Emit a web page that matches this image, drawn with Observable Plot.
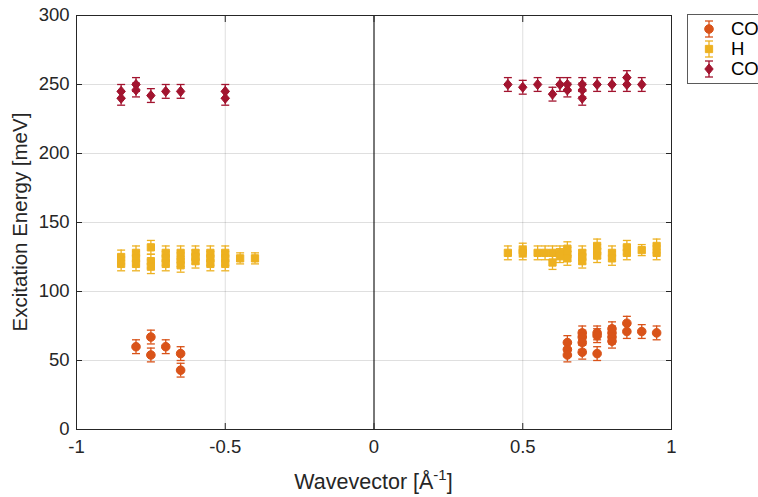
<!DOCTYPE html>
<html>
<head>
<meta charset="utf-8">
<script src="https://cdn.jsdelivr.net/npm/d3@7"></script>
<script src="https://cdn.jsdelivr.net/npm/@observablehq/plot@0.6"></script>
<style>
  html, body { margin: 0; padding: 0; background: #fff; overflow: hidden; }
  #chart { position: relative; width: 758px; height: 497px; font-family: "Liberation Sans", Arial, Helvetica, sans-serif; }
  #legend { position: absolute; left: 687px; top: 14px; width: 110px; height: 70px;
            border: 1px solid #5a5a5a; background: #fff; box-sizing: border-box; }
</style>
</head>
<body>
<div id="chart"></div>
<script>
// Excitation energies (meV) with error bars versus wavevector (1/Å)

// CO mode (orange circles)
const coQ   = [-0.8, -0.75, -0.75, -0.7, -0.65, -0.65,
               0.65, 0.65, 0.65, 0.7, 0.7, 0.7, 0.7, 0.75, 0.75, 0.75,
               0.8, 0.8, 0.8, 0.8, 0.85, 0.85, 0.9, 0.95];
const coE   = [60, 67, 54, 60, 55, 43,
               63, 58, 54, 70, 67, 63, 56, 70, 68, 55,
               73, 70, 67, 64, 77, 71, 71, 70];
const coErr = [5, 5, 5, 5, 5, 5,
               5, 5, 5, 5, 5, 5, 5, 5, 5, 5,
               5, 5, 5, 5, 5, 5, 5, 5];

// H mode (yellow squares)
const hQ   = [-0.85, -0.85, -0.8, -0.8, -0.8, -0.75, -0.75, -0.75, -0.7, -0.7, -0.7,
              -0.65, -0.65, -0.65, -0.6, -0.6, -0.6, -0.55, -0.55, -0.55, -0.5, -0.5, -0.5,
              -0.45, -0.4,
              0.45, 0.5, 0.5, 0.55, 0.575, 0.6, 0.6, 0.625, 0.625, 0.65, 0.65, 0.65,
              0.7, 0.7, 0.7, 0.75, 0.75, 0.75, 0.8, 0.8, 0.85, 0.85, 0.9, 0.95, 0.95];
const hE   = [125, 120, 128, 124, 120, 132, 122, 118, 128, 124, 120,
              128, 123, 119, 128, 125, 122, 128, 124, 120, 128, 124, 120,
              124, 124,
              128, 130, 128, 128, 128, 128, 121, 128, 126, 131, 127, 124,
              128, 125, 122, 133, 129, 126, 128, 124, 132, 128, 130, 133, 128];
const hErr = [5, 5, 5, 5, 5, 5, 5, 5, 5, 5, 5,
              5, 5, 5, 5, 5, 5, 5, 5, 5, 5, 5, 5,
              4, 4,
              5, 5, 5, 5, 5, 5, 5, 5, 5, 5, 5, 5,
              5, 5, 5, 5, 5, 5, 5, 5, 5, 5, 4, 5, 5];

// CO mode, upper branch (dark red diamonds)
const co2Q   = [-0.85, -0.85, -0.8, -0.8, -0.75, -0.7, -0.65, -0.5, -0.5,
                0.45, 0.5, 0.55, 0.6, 0.625, 0.65, 0.65, 0.7, 0.7, 0.7,
                0.75, 0.8, 0.85, 0.85, 0.9];
const co2E   = [245, 240, 250, 246, 242, 245, 245, 245, 240,
                250, 248, 250, 243, 250, 250, 246, 250, 246, 240,
                250, 250, 255, 250, 250];
const co2Err = [5, 5, 5, 5, 5, 5, 5, 5, 5,
                5, 5, 5, 5, 5, 5, 5, 5, 5, 5,
                5, 5, 5, 5, 5];

const seriesNames  = ["CO", "H", "CO"];
const seriesColors = ["#D95319", "#EDB120", "#A2142F"];

const xTicks = [-1, -0.5, 0, 0.5, 1];
const yTicks = [0, 50, 100, 150, 200, 250, 300];

const FONT = '"Liberation Sans", Arial, Helvetica, sans-serif';
const AXIS = "#262626";

// Marker shapes (error-bar caps are short horizontal strokes)
const capSymbol = { draw(ctx, size) { const r = Math.sqrt(size / Math.PI); ctx.moveTo(-r, 0); ctx.lineTo(r, 0); } };
const diamondSymbol = { draw(ctx, size) {
  const r = Math.sqrt(size / Math.PI);
  ctx.moveTo(0, -1.2 * r); ctx.lineTo(r, 0); ctx.lineTo(0, 1.2 * r); ctx.lineTo(-r, 0); ctx.closePath();
} };
const symbols = ["circle", "square", diamondSymbol];
const radii = [4.3, 4.1, 4.2];

const toRows = (q, e, err) => q.map((x, i) => ({q: x, E: e[i], err: err[i]}));
const series = [toRows(coQ, coE, coErr), toRows(hQ, hE, hErr), toRows(co2Q, co2E, co2Err)];

function seriesMarks(data, i) {
  const color = seriesColors[i];
  return [
    Plot.ruleX(data, {x: "q", y1: d => d.E - d.err, y2: d => d.E + d.err, stroke: color, strokeWidth: 1.3}),
    Plot.dot(data, {x: "q", y: d => d.E + d.err, symbol: capSymbol, r: 4, stroke: color, strokeWidth: 1.3}),
    Plot.dot(data, {x: "q", y: d => d.E - d.err, symbol: capSymbol, r: 4, stroke: color, strokeWidth: 1.3}),
    Plot.dot(data, {x: "q", y: "E", symbol: symbols[i], r: radii[i], fill: color, stroke: color, strokeWidth: 1})
  ];
}

const fmt = d => String(d);

const chart = Plot.plot({
  width: 758,
  height: 497,
  marginLeft: 76,
  marginRight: 87,
  marginTop: 15,
  marginBottom: 68,
  style: {fontFamily: FONT, fontSize: "18.5px", color: AXIS, background: "#fff"},
  x: {domain: [-1, 1]},
  y: {domain: [0, 300]},
  marks: [
    Plot.gridX(xTicks, {stroke: AXIS, strokeOpacity: 0.15}),
    Plot.gridY(yTicks, {stroke: AXIS, strokeOpacity: 0.15}),
    Plot.ruleX([0], {stroke: "#000", strokeWidth: 1}),
    ...series.flatMap((d, i) => seriesMarks(d, i)),
    Plot.frame({stroke: AXIS, strokeWidth: 1}),
    // inward tick marks on all four sides
    Plot.axisX(xTicks, {anchor: "bottom", tickSize: -6, tickFormat: () => "", label: null, stroke: AXIS}),
    Plot.axisX(xTicks, {anchor: "top", tickSize: -6, tickFormat: () => "", label: null, stroke: AXIS}),
    Plot.axisY(yTicks, {anchor: "left", tickSize: -6, tickFormat: () => "", label: null, stroke: AXIS}),
    Plot.axisY(yTicks, {anchor: "right", tickSize: -6, tickFormat: () => "", label: null, stroke: AXIS}),
    // tick labels
    Plot.axisX(xTicks, {anchor: "bottom", tickSize: 0, tickPadding: 10, tickFormat: fmt, label: null, fill: AXIS}),
    Plot.axisY(yTicks, {anchor: "left", tickSize: 0, tickPadding: 7, tickFormat: fmt, label: null, fill: AXIS})
  ]
});

document.getElementById("chart").appendChild(chart);

// Axis titles
const svg = d3.select(chart);
const xr = chart.scale("x").range, yr = chart.scale("y").range;
const xt = svg.append("text")
  .attr("x", (xr[0] + xr[1]) / 2).attr("y", 489)
  .attr("text-anchor", "middle")
  .attr("fill", AXIS).style("font-size", "21.5px").style("font-family", FONT);
xt.append("tspan").text("Wavevector [Å");
xt.append("tspan").attr("dy", -9).style("font-size", "15px").text("-1");
xt.append("tspan").attr("dy", 9).text("]");

svg.append("text")
  .attr("transform", `translate(27,${(yr[0] + yr[1]) / 2}) rotate(-90)`)
  .attr("text-anchor", "middle")
  .attr("fill", AXIS).style("font-size", "20.5px").style("font-family", FONT)
  .text("Excitation Energy [meV]");

// Legend
const legend = d3.select("#chart").append("div").attr("id", "legend");
seriesNames.forEach((name, i) => {
  const row = legend.append("div")
    .style("position", "absolute").style("left", "0px").style("top", `${4 + i * 20}px`)
    .style("height", "20px").style("display", "flex").style("align-items", "center");
  const s = row.append("svg").attr("width", 36).attr("height", 20);
  const g = s.append("g").attr("transform", "translate(21,10)").attr("stroke", seriesColors[i]).attr("stroke-width", 1.3);
  g.append("line").attr("x1", 0).attr("x2", 0).attr("y1", -8).attr("y2", 8);
  g.append("line").attr("x1", -4).attr("x2", 4).attr("y1", -8).attr("y2", -8);
  g.append("line").attr("x1", -4).attr("x2", 4).attr("y1", 8).attr("y2", 8);
  const sym = symbols[i] === "circle" ? d3.symbolCircle : symbols[i] === "square" ? d3.symbolSquare : diamondSymbol;
  g.append("path").attr("d", d3.symbol(sym, Math.PI * radii[i] * radii[i])()).attr("fill", seriesColors[i]).attr("stroke-width", 1);
  row.append("span").text(name)
    .style("font-size", "18.5px").style("color", "#000").style("margin-left", "7px").style("line-height", "20px");
});
</script>
</body>
</html>
